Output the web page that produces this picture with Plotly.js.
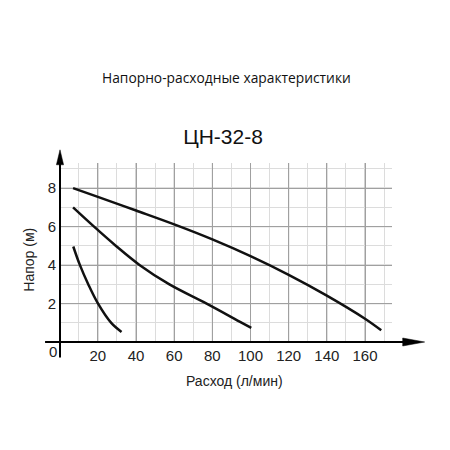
<!DOCTYPE html>
<html>
<head>
<meta charset="utf-8">
<script src="https://cdn.plot.ly/plotly-3.0.1.min.js"></script>
<style>
  html, body { margin: 0; padding: 0; background: #fff; }
  #chart { width: 450px; height: 450px; }
</style>
</head>
<body>
<div id="chart"></div>
<script>
// curves: flow (l/min) vs head (m)
const curve1X = [7, 20, 40, 60, 80, 100, 120, 140, 160, 168.5];
const curve1Y = [8.0, 7.55, 6.84, 6.12, 5.34, 4.47, 3.5, 2.42, 1.22, 0.62];

const curve2X = [7, 18, 29.5, 42, 57.5, 77, 95.5, 100.4];
const curve2Y = [7.0, 6.0, 5.0, 4.0, 3.0, 2.0, 1.0, 0.74];

const curve3X = [7.1, 10.6, 15.0, 20.1, 27.0, 32.4];
const curve3Y = [4.97, 4.0, 3.0, 2.0, 1.0, 0.53];

// labelled (darker) grid positions
const xMajor = [20, 40, 60, 80, 100, 120, 140, 160];
const yMajor = [2, 4, 6, 8];

const headerText = 'Напорно-расходные характеристики';
const modelText = 'ЦН-32-8';
const xTitle = 'Расход (л/мин)';
const yTitle = 'Напор (м)';

const lineStyle = { color: '#111', width: 2.5, shape: 'spline', smoothing: 1 };

const traces = [
  { x: curve1X, y: curve1Y, mode: 'lines', line: lineStyle, hoverinfo: 'skip' },
  { x: curve2X, y: curve2Y, mode: 'lines', line: lineStyle, hoverinfo: 'skip' },
  { x: curve3X, y: curve3Y, mode: 'lines', line: lineStyle, hoverinfo: 'skip' },
];

const tickFont = { family: 'Liberation Sans, Arial, sans-serif', size: 15, color: '#222' };
const majorGrid = '#a0a0a0';
const minorGrid = '#dcdcdc';

// darker grid lines on the labelled ticks
const gridShapes = [
  ...xMajor.map((v) => ({
    type: 'line', layer: 'between', xref: 'x', yref: 'paper', x0: v, x1: v, y0: 0, y1: 1,
    line: { color: majorGrid, width: 1 },
  })),
  ...yMajor.map((v) => ({
    type: 'line', layer: 'between', xref: 'paper', yref: 'y', x0: 0, x1: 1, y0: v, y1: v,
    line: { color: majorGrid, width: 1 },
  })),
];

// axis lines + arrow heads, in paper units
const axisShapes = [
  { type: 'line', xref: 'paper', yref: 'paper', x0: 0, x1: 0, y0: -0.086, y1: 0.995,
    line: { color: '#000', width: 2 } },
  { type: 'line', xref: 'paper', yref: 'paper', x0: -0.045, x1: 1.035, y0: 0, y1: 0,
    line: { color: '#000', width: 2 } },
  { type: 'path', xref: 'paper', yref: 'paper',
    path: 'M -0.0108 0.99 L 0.0108 0.99 L 0 1.0736 Z',
    fillcolor: '#000', line: { color: '#000', width: 0.5 } },
  { type: 'path', xref: 'paper', yref: 'paper',
    path: 'M 1.0322 -0.0223 L 1.0322 0.0223 L 1.0984 0 Z',
    fillcolor: '#000', line: { color: '#000', width: 0.5 } },
];

const layout = {
  width: 450,
  height: 450,
  margin: { l: 60, r: 57.7, t: 163.2, b: 107.5 },
  paper_bgcolor: '#fff',
  plot_bgcolor: '#fff',
  showlegend: false,
  title: {
    text: modelText,
    font: { family: 'Liberation Sans, Arial, sans-serif', size: 21, color: '#111' },
    xref: 'container', yref: 'container',
    x: 0.4956, y: 0.6956, xanchor: 'center', yanchor: 'middle',
  },
  xaxis: {
    // range starts a hair past 0 so the 0 tick is dropped (drawn separately, left of the axis)
    range: [0.15, 174.15],
    tickmode: 'linear',
    tick0: 0,
    dtick: 20,
    ticks: 'outside',
    ticklen: 0,
    showgrid: true,
    gridcolor: majorGrid,
    gridwidth: 1,
    minor: { tickmode: 'linear', tick0: 0, dtick: 10, showgrid: true, gridcolor: minorGrid, gridwidth: 1 },
    zeroline: false,
    showline: false,
    tickfont: tickFont,
    fixedrange: true,
  },
  yaxis: {
    range: [0.008, 9.308],
    tickmode: 'linear',
    tick0: 0,
    dtick: 2,
    ticks: 'outside',
    ticklen: 0,
    showgrid: true,
    gridcolor: majorGrid,
    gridwidth: 1,
    minor: { tickmode: 'linear', tick0: 0, dtick: 1, showgrid: true, gridcolor: minorGrid, gridwidth: 1 },
    zeroline: false,
    showline: false,
    tickfont: tickFont,
    fixedrange: true,
  },
  shapes: [...gridShapes, ...axisShapes],
  annotations: [
    {
      text: headerText, xref: 'paper', yref: 'paper', x: 0.5017, y: 1.475,
      xanchor: 'center', yanchor: 'middle', showarrow: false,
      font: { family: 'Open Sans, sans-serif', size: 13.8, color: '#111' },
    },
    {
      text: xTitle, xref: 'paper', yref: 'paper', x: 0.5266, y: -0.2203,
      xanchor: 'center', yanchor: 'middle', showarrow: false,
      font: { family: 'Liberation Sans, Arial, sans-serif', size: 14, color: '#222' },
    },
    {
      text: yTitle, xref: 'paper', yref: 'paper', x: -0.0933, y: 0.4601,
      xanchor: 'center', yanchor: 'middle', showarrow: false, textangle: -90,
      font: { family: 'Liberation Sans, Arial, sans-serif', size: 14, color: '#222' },
    },
    {
      text: '0', xref: 'paper', yref: 'paper', x: -0.022, y: -0.053,
      xanchor: 'center', yanchor: 'middle', showarrow: false,
      font: tickFont,
    },
  ],
};

Plotly.newPlot('chart', traces, layout, { displayModeBar: false, staticPlot: true });
</script>
</body>
</html>
